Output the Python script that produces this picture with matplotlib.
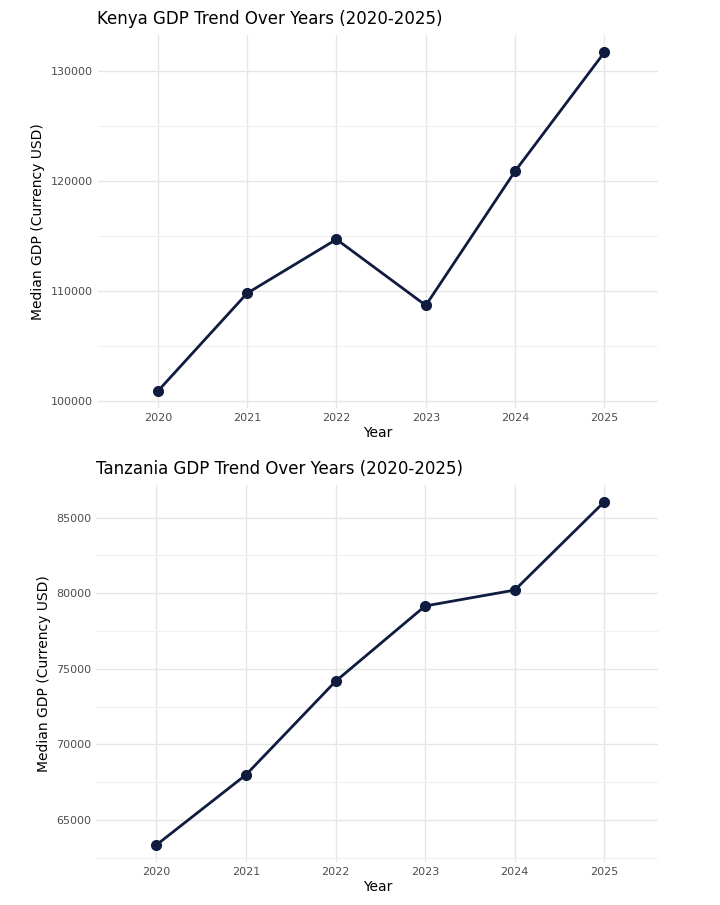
import numpy as np
import matplotlib.pyplot as plt
from matplotlib.ticker import MultipleLocator

years = [2020, 2021, 2022, 2023, 2024, 2025]
kenya_gdp = [100900, 109800, 114700, 108700, 120900, 131700]
tanzania_gdp = [63360, 68000, 74180, 79160, 80210, 86050]

line_col = '#0f1c3f'

fig = plt.figure(figsize=(7.2, 9.05), dpi=100)


def panel(rect, vals, title, major, ylim):
    ax = fig.add_axes(rect)
    ax.plot(years, vals, color=line_col, lw=2, marker='o', ms=7, zorder=3)
    ax.set_xlim(2019.33, 2025.6)
    ax.set_ylim(*ylim)
    ax.set_xticks(years)
    ax.yaxis.set_major_locator(MultipleLocator(major))
    ax.yaxis.set_minor_locator(MultipleLocator(major / 2))
    ax.xaxis.set_minor_locator(MultipleLocator(0.5))
    ax.grid(which='major', color='#e6e6e6', lw=1)
    ax.grid(which='minor', axis='y', color='#f0f0f0', lw=0.8)
    ax.set_axisbelow(True)
    for s in ax.spines.values():
        s.set_visible(False)
    ax.tick_params(which='both', length=0, labelsize=8, labelcolor='#4d4d4d')
    ax.set_xlabel('Year', fontsize=10, labelpad=2)
    ax.set_ylabel('Median GDP (Currency USD)', fontsize=10)
    ax.set_title(title, loc='left', fontsize=12, x=-0.001, pad=8)
    return ax


panel([0.136, 0.549, 0.778, 0.412], kenya_gdp,
      'Kenya GDP Trend Over Years (2020-2025)', 10000, (99360, 133240))
panel([0.134, 0.0475, 0.78, 0.417], tanzania_gdp,
      'Tanzania GDP Trend Over Years (2020-2025)', 5000, (62226, 87184))

fig.savefig('out.png', dpi=100)
